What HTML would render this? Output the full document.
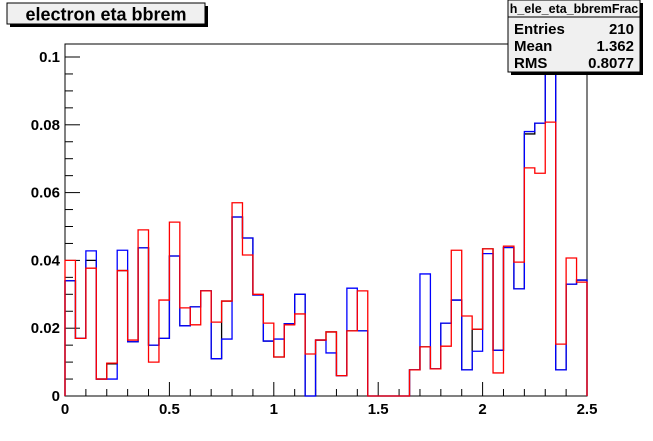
<!DOCTYPE html>
<html><head><meta charset="utf-8"><style>
body{margin:0;background:#fff;}
svg{display:block;font-family:"Liberation Sans",Arial,sans-serif;font-weight:bold;}
</style></head><body>
<svg id="c" width="653" height="441" viewBox="0 0 653 441">
<rect x="0" y="0" width="653" height="441" fill="#fff"/>
<g>
<rect x="10" y="6" width="198" height="21" fill="#000"/>
<rect x="7" y="3" width="198" height="21" fill="#f0f0f0" stroke="#000" stroke-width="1"/>
<text x="106" y="20.5" font-size="18" text-anchor="middle">electron eta bbrem</text>
</g>
<rect x="65" y="44" width="522" height="352" fill="none" stroke="#000" stroke-width="1"/>
<g id="axes"></g>
<g id="series"></g>
<g>
<rect x="511" y="3" width="132" height="72" fill="#000"/>
<rect x="508" y="0" width="132" height="72" fill="#f0f0f0" stroke="#000"/>
<line x1="508" y1="17" x2="640" y2="17" stroke="#000"/>
<text x="574" y="13" font-size="12.5" text-anchor="middle">h_ele_eta_bbremFrac</text>
<text x="514" y="34" font-size="15">Entries</text><text x="634" y="34" font-size="15" text-anchor="end">210</text>
<text x="514" y="51" font-size="15">Mean</text><text x="634" y="51" font-size="15" text-anchor="end">1.362</text>
<text x="514" y="68" font-size="15">RMS</text><text x="634" y="68" font-size="15" text-anchor="end">0.8077</text>
</g>
</svg>
<script>
const xTicks=[0,0.5,1,1.5,2,2.5];
const yTicks=[0,0.02,0.04,0.06,0.08,0.1];
const yTickLabels=["0","0.02","0.04","0.06","0.08","0.1"];
const blueVals=[0.034,0.017,0.0428,0.005,0.005,0.043,0.016,0.0437,0.015,0.017,0.0413,0.0207,0.0263,0.031,0.011,0.0168,0.0528,0.0466,0.0298,0.0162,0.0168,0.0213,0.030,0,0.0165,0.0127,0.006,0.0318,0.0192,0,0,0,0,0.0077,0.036,0.008,0.0215,0.0283,0.0077,0.0132,0.042,0.0135,0.0438,0.0316,0.078,0.0805,0.11,0.0077,0.033,0.0342];
const blackVals=[0.034,0.017,0.0400,0.005,0.0095,0.037,0.016,0.0437,0.015,0.017,0.0413,0.0207,0.0263,0.031,0.011,0.028,0.0528,0.0466,0.0298,0.0162,0.0115,0.0213,0.030,0,0.0165,0.0189,0.006,0.0192,0.0192,0,0,0,0,0.0077,0.0145,0.008,0.0215,0.0283,0.0077,0.0197,0.0434,0.0135,0.0438,0.0316,0.0773,0.0805,0.11,0.0077,0.033,0.0342];
const redVals=[0.040,0.017,0.0377,0.005,0.0097,0.037,0.0165,0.049,0.010,0.0283,0.0513,0.026,0.021,0.031,0.0218,0.028,0.057,0.0416,0.030,0.0215,0.0115,0.021,0.0242,0.0124,0.0165,0.0189,0.006,0.0192,0.031,0,0,0,0,0.0077,0.0145,0.008,0.0147,0.043,0.0236,0.0197,0.0434,0.0068,0.0442,0.0395,0.0673,0.0657,0.0808,0.0153,0.0407,0.0336];
const NS="http://www.w3.org/2000/svg";
const X0=65,X1=587,Y0=396,YTOP=44;
const xs=v=>X0+(v/2.5)*(X1-X0);
const ys=v=>Math.max(YTOP,Y0-v*3390);
function mk(t,a){const e=document.createElementNS(NS,t);for(const k in a)e.setAttribute(k,a[k]);return e;}
const axes=document.getElementById('axes');
for(let i=0;i<=50;i+=2){const x=xs(i*0.05);const major=i%10===0;const l=mk('line',{x1:x,x2:x,y1:Y0,y2:Y0-(major?14:7),stroke:'#000'});
axes.appendChild(l);}
xTicks.forEach(v=>{const t=mk('text',{x:xs(v),y:414,'font-size':15,'text-anchor':'middle'});t.textContent=String(v);
axes.appendChild(t);});
for(let v=0;v<=0.1001;v+=0.005){const major=Math.abs(v/0.02-Math.round(v/0.02))<1e-6;const l=mk('line',{x1:X0,x2:X0+(major?15:8),y1:ys(v),y2:ys(v),stroke:'#000'});
axes.appendChild(l);}
yTicks.forEach((v,i)=>{const t=mk('text',{x:X0-5,y:ys(v)+5,'font-size':15,'text-anchor':'end'});t.textContent=yTickLabels[i];
axes.appendChild(t);});
const ser=document.getElementById('series');
function draw(vals,color,name){let d='M'+X0+' '+Y0;vals.forEach((v,i)=>{const a=xs(i*0.05),b=xs((i+1)*0.05);d+=' L'+a+' '+ys(v)+' L'+b+' '+ys(v);});d+=' L'+X1+' '+Y0;
const p=mk('path',{d:d,fill:'none',stroke:color,'stroke-width':1.3});ser.appendChild(p);}
draw(blackVals,'#000','series-black');
draw(blueVals,'#0000ff','series-blue');
draw(redVals,'#ff0000','series-red');
</script>
</body></html>
